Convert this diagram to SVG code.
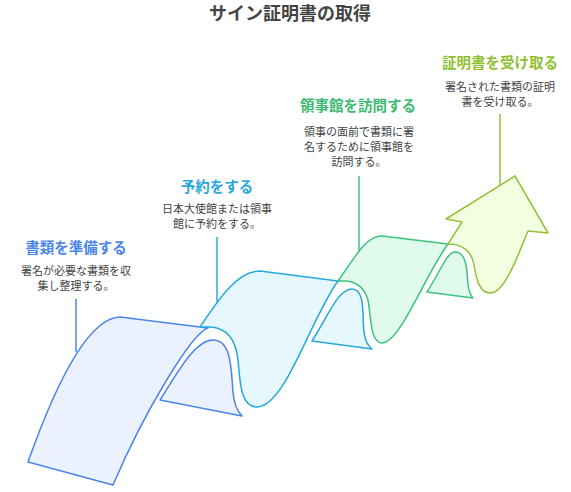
<svg xmlns="http://www.w3.org/2000/svg" width="571" height="492" viewBox="0 0 571 492">
<style>
text{font-family:"Noto Sans CJK JP","Noto Sans",sans-serif;text-anchor:middle;dominant-baseline:central}
.title{font-size:18px;font-weight:bold;fill:#444}
.h{font-size:14.5px;font-weight:bold}
.d{font-size:11px;fill:#444}
.s{stroke-width:1.5;stroke-linejoin:round}
.b{stroke:#4a86e8;fill:#ebf2fd}
.c{stroke:#24a9d9;fill:#e6f7fd}
.g{stroke:#3cc27c;fill:#e0fbee}
.l{stroke:#93c13b;fill:#f3fde0}
.ln{stroke-width:1.5;fill:none}
</style>
<rect width="571" height="492" fill="#fff"/>
<text class="title" x="290" y="12">サイン証明書の取得</text>

<g id="connectors">
<line class="ln" stroke="#4a86e8" x1="76" y1="299" x2="76" y2="352"/>
<line class="ln" stroke="#24a9d9" x1="217" y1="237" x2="217" y2="303"/>
<line class="ln" stroke="#3cc27c" x1="359" y1="176" x2="359" y2="253"/>
<line class="ln" stroke="#93c13b" x1="500" y1="114" x2="500" y2="185"/>
</g>

<g id="step1">
<path class="s b" d="M28,462 C50,400 85,318 120,317 L208,328 C192,333 145,410 113,485 Z"/>
<path class="s b" d="M160,400 C178,372 195,340 213,340 C232,340 231,370 233,392 C234,405 238,412 242,416 Z"/>
<text class="h" x="76" y="246" fill="#4a86e8">書類を準備する</text>
<text class="d" x="76" y="270">署名が必要な書類を収</text>
<text class="d" x="76" y="285">集し整理する。</text>
</g>

<g id="step2">
<path class="s c" d="M200,327 C220,297 238,271 260,271 L338,281 C310,320 285,407 257,407 C240,407 240,380 238,360 C236,340 228,328 210,327 Z"/>
<path class="s c" d="M312,341 C328,316 338,289 352,289 C366,289 362,318 364,332 C365,341 368,346 372,349 Z"/>
<text class="h" x="217" y="185" fill="#29a7dc">予約をする</text>
<text class="d" x="217" y="208">日本大使館または領事</text>
<text class="d" x="217" y="223">館に予約をする。</text>
</g>

<g id="step3">
<path class="s g" d="M338,281 C355,258 365,236 382,236 L448,244 C425,275 400,343 382,343 C370,343 371,315 368,300 C365,288 355,280 343,281 Z"/>
<path class="s g" d="M427,292 C440,272 447,252 455,252 C468,252 467,275 468,285 C469,292 471,296 473,298 Z"/>
<text class="h" x="358" y="104" fill="#3cba72">領事館を訪問する</text>
<text class="d" x="359" y="131">領事の面前で書類に署</text>
<text class="d" x="359" y="146">名するために領事館を</text>
<text class="d" x="359" y="161">訪問する。</text>
</g>

<g id="step4">
<path class="s l" d="M448,244 L462,222 L446,219 L515,176 L548,233 L528,231 C518,255 505,293 490,293 C478,293 476,275 474,265 C472,252 463,244 448,244 Z"/>
<text class="h" x="500" y="61" fill="#8fbf30">証明書を受け取る</text>
<text class="d" x="500" y="86">署名された書類の証明</text>
<text class="d" x="500" y="101">書を受け取る。</text>
</g>
</svg>
